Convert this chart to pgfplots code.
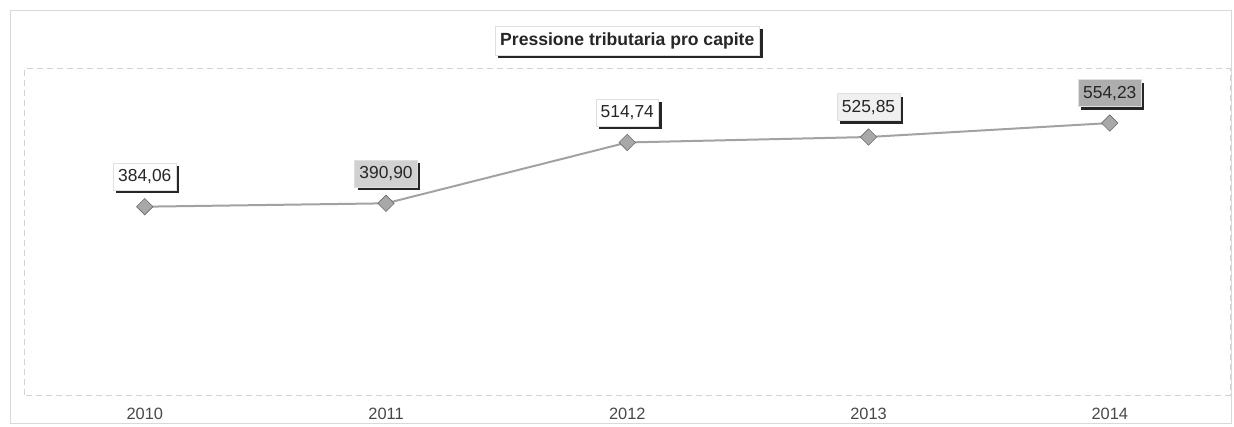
\documentclass[border=0pt]{standalone}
\usepackage{pgfplots}
\pgfplotsset{compat=1.18}
\usepackage{pgfplotstable}
\usepackage{fontspec}
\setmainfont{Liberation Sans}
\usetikzlibrary{shadows}

\pgfplotstableread{
x y lab shade
0 384.06 {384,06} 0
1 390.90 {390,90} 18
2 514.74 {514,74} 0
3 525.85 {525,85} 6
4 554.23 {554,23} 32
}\pressione

\definecolor{linegray}{HTML}{A2A2A2}
\definecolor{markgray}{HTML}{A8A8A8}

\begin{document}
\begin{tikzpicture}
\begin{axis}[
  scale only axis, width=603.5pt, height=163.5pt,
  xmin=-0.5, xmax=4.5, ymin=0, ymax=665,
  xtick={0,1,2,3,4}, xticklabels={2010,2011,2012,2013,2014},
  ytick=\empty, major tick length=0pt,
  axis line style={gray!35, densely dashed, line width=0.4pt},
  tick label style={font=\fontsize{8.2}{10}\selectfont, text=black!72},
  xticklabel style={yshift=-3pt},
  clip=false,
  nodes near coords={\pgfplotspointmeta},
  point meta=explicit symbolic,
  visualization depends on={\thisrow{shade} \as \boxshade},
  every node near coord/.append style={
    font=\fontsize{8.7}{10}\selectfont, text=black!85,
    fill=black!\boxshade!white, draw=gray!25, line width=0.3pt,
    inner xsep=2.4pt, inner ysep=3.2pt, yshift=8pt,
    drop shadow={shadow xshift=1.5pt, shadow yshift=-1.5pt, fill=black!85, draw=none, opacity=1}},
]
\addplot[color=linegray, line width=1pt, mark=square*, mark size=2.9pt,
  mark options={rotate=45, fill=markgray, draw=gray!85!black, line width=0.3pt}]
  table[x=x, y=y, meta=lab] {\pressione};
\draw[gray!30, line width=0.4pt] (rel axis cs:-0.0116,-0.0856) rectangle (rel axis cs:1.0008,1.177);
\path (rel axis cs:-0.02,-0.095) rectangle (rel axis cs:1.003,1.21);
\node[fill=white, draw=gray!25, line width=0.3pt, inner xsep=2.6pt, inner ysep=3.2pt,
  font=\bfseries\fontsize{8.8}{10}\selectfont, text=black!85,
  drop shadow={shadow xshift=1.5pt, shadow yshift=-1.5pt, fill=black!85, draw=none, opacity=1}]
  at (rel axis cs:0.5,1.0856) {Pressione tributaria pro capite};
\end{axis}
\end{tikzpicture}
\end{document}
